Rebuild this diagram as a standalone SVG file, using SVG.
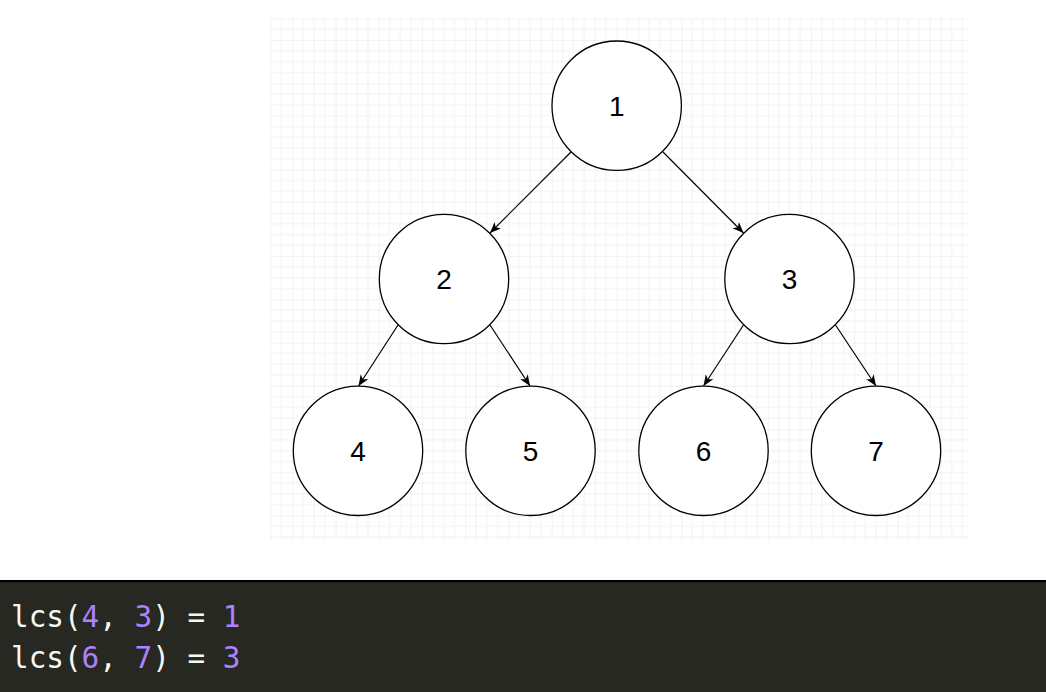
<svg xmlns="http://www.w3.org/2000/svg" width="1046" height="692" viewBox="0 0 1046 692">
  <style>
    .node circle { fill: #ffffff; stroke: #000000; stroke-width: 1.3; }
    .node text { font-family: "Liberation Sans", Arial, sans-serif; font-size: 28px; fill: #000000; text-anchor: middle; }
    .edge { stroke: #000000; stroke-width: 1.2; fill: none; marker-end: url(#arrow); }
    .code { font-family: "DejaVu Sans Mono", "Liberation Mono", monospace; font-size: 29.3px; fill: #f8f8f2; }
    .num { fill: #ae81ff; }
  </style>
  <defs>
    <!-- 4x4 cell grid: one major line per four minor ones -->
    <pattern id="grid" patternUnits="userSpaceOnUse" x="249.07" y="-3.23" width="43.23" height="43.23">
      <path d="M10.81 0V43.23M21.62 0V43.23M32.42 0V43.23M0 10.81H43.23M0 21.62H43.23M0 32.42H43.23" stroke="#f2f2f2" stroke-width="1" fill="none"/>
      <path d="M0 0V43.23M0 0H43.23" stroke="#e5e5e5" stroke-width="1" fill="none"/>
    </pattern>
    <marker id="arrow" markerUnits="userSpaceOnUse" markerWidth="12" markerHeight="10" refX="11" refY="4.5" orient="auto">
      <path d="M0,0 L11,4.5 L0,9 L3,4.5 Z" fill="#000000"/>
    </marker>
  </defs>

  <rect width="1046" height="692" fill="#ffffff"/>
  <rect x="270" y="18" width="698" height="522" fill="url(#grid)"/>

  <g id="connectors">
    <line class="edge" x1="571" y1="152" x2="490" y2="233"/>
    <line class="edge" x1="663" y1="152" x2="743.5" y2="233"/>
    <line class="edge" x1="398" y1="325" x2="358.5" y2="386"/>
    <line class="edge" x1="490" y1="325" x2="530" y2="386"/>
    <line class="edge" x1="743.5" y1="325" x2="703.5" y2="386"/>
    <line class="edge" x1="835.5" y1="325" x2="876" y2="386"/>
  </g>

  <g id="node-1" class="node"><circle cx="616.7" cy="105.7" r="64.7"/><text x="616.7" y="115.8">1</text></g>
  <g id="node-2" class="node"><circle cx="444" cy="279" r="64.7"/><text x="444" y="289.1">2</text></g>
  <g id="node-3" class="node"><circle cx="789.5" cy="279" r="64.7"/><text x="789.5" y="289.1">3</text></g>
  <g id="node-4" class="node"><circle cx="358" cy="450.8" r="64.7"/><text x="358" y="460.9">4</text></g>
  <g id="node-5" class="node"><circle cx="530.5" cy="450.8" r="64.7"/><text x="530.5" y="460.9">5</text></g>
  <g id="node-6" class="node"><circle cx="703.5" cy="450.8" r="64.7"/><text x="703.5" y="460.9">6</text></g>
  <g id="node-7" class="node"><circle cx="876" cy="450.8" r="64.7"/><text x="876" y="460.9">7</text></g>

  <!-- code panel -->
  <g id="code-panel">
    <rect x="0" y="580" width="1046" height="112" fill="#272822"/>
    <rect x="0" y="580" width="1046" height="2.2" fill="#000000"/>
    <text class="code" x="11" y="627.3" xml:space="preserve">lcs(<tspan class="num">4</tspan>, <tspan class="num">3</tspan>) = <tspan class="num">1</tspan></text>
    <text class="code" x="11" y="668.3" xml:space="preserve">lcs(<tspan class="num">6</tspan>, <tspan class="num">7</tspan>) = <tspan class="num">3</tspan></text>
  </g>
</svg>
